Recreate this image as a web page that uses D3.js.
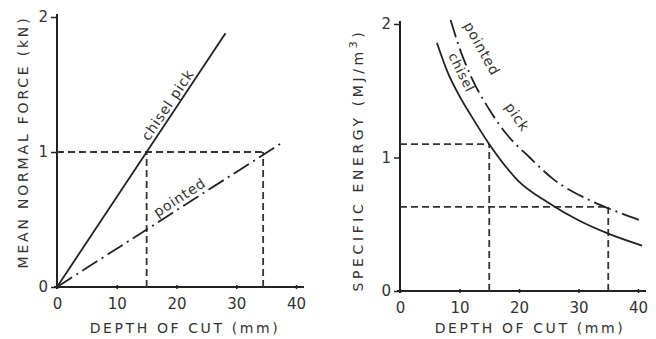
<!DOCTYPE html>
<html>
<head>
<meta charset="utf-8">
<script src="https://cdn.jsdelivr.net/npm/d3@7"></script>
<style>
  body { margin: 0; background: #fff; }
  svg text { font-family: "DejaVu Sans", sans-serif; fill: #333; }
  .tick text { font-size: 15px; }
  .axis-title { font-size: 14px; letter-spacing: 2.6px; }
  .lbl { font-size: 14px; letter-spacing: 0.8px; }
</style>
</head>
<body>
<div id="chart"></div>
<script>
// depth of cut (mm) ticks, shared by both panels
const depthTicks = [0, 10, 20, 30, 40];
const forceTicks = [0, 1, 2];
const energyTicks = [0, 1, 2];

// mean normal force (kN) vs depth of cut (mm)
const chiselForce = [[0, 0], [28.2, 1.88]];
const pointedForce = [[0, 0], [37.7, 1.07]];
const forceGuides = [[15, 1], [34.5, 1]];

// specific energy (MJ/m3) vs depth of cut (mm)
const chiselEnergy = [[6.2, 1.86], [8, 1.64], [10, 1.46], [12, 1.31], [15, 1.1],
  [20, 0.82], [25, 0.66], [30, 0.53], [35, 0.43], [40.7, 0.34]];
const pointedEnergy = [[8.5, 2.03], [10, 1.82], [12, 1.6], [15, 1.36], [18, 1.17],
  [21.8, 1.0], [25.7, 0.84], [31.4, 0.69], [35, 0.62], [40.3, 0.53]];
const energyGuides = [[15, 1.1], [35, 0.63]];

const svg = d3.select('#chart').append('svg')
    .attr('width', 656)
    .attr('height', 339);

function panel(cfg) {
  const x = d3.scaleLinear().domain([0, 40]).range(cfg.xRange);
  const y = d3.scaleLinear().domain([0, 2]).range(cfg.yRange);
  const g = svg.append('g');

  // axis lines, a bit longer than the domain like the drawing
  g.append('line')
      .attr('x1', x(0)).attr('x2', x(0))
      .attr('y1', y(0) + 2).attr('y2', y(2) - 3)
      .attr('stroke', '#222').attr('stroke-width', 2);
  g.append('line')
      .attr('x1', x(0) - 3).attr('x2', x(40) + 8)
      .attr('y1', y(0)).attr('y2', y(0))
      .attr('stroke', '#222').attr('stroke-width', 2);

  const yAxis = d3.axisLeft(y).tickValues(cfg.yTicks).tickSize(6).tickPadding(3).tickFormat(d3.format('d'));
  const xAxis = d3.axisBottom(x).tickValues(depthTicks).tickSize(4).tickPadding(6);

  g.append('g')
      .attr('transform', `translate(${x(0)},0)`)
      .call(yAxis)
      .call(a => a.select('.domain').remove())
      .call(a => a.selectAll('.tick line').attr('stroke', '#222').attr('stroke-width', 1.5));

  g.append('g')
      .attr('transform', `translate(0,${y(0) - 2})`)
      .call(xAxis)
      .call(a => a.select('.domain').remove())
      .call(a => a.selectAll('.tick line').attr('stroke', '#222').attr('stroke-width', 1.5))
      .call(a => a.selectAll('.tick text').attr('dy', '0.9em'));

  // dashed guide lines
  cfg.guides.forEach(([gx, gy]) => {
    g.append('path')
        .attr('d', `M${x(0)},${y(gy)}H${x(gx)}M${x(gx)},${y(0)}V${y(gy)}`)
        .attr('fill', 'none')
        .attr('stroke', '#333')
        .attr('stroke-width', 1.8)
        .attr('stroke-dasharray', '7,4');
  });

  const line = d3.line().x(d => x(d[0])).y(d => y(d[1])).curve(d3.curveMonotoneX);

  g.append('path')
      .datum(cfg.chisel)
      .attr('d', line)
      .attr('fill', 'none')
      .attr('stroke', '#222')
      .attr('stroke-width', 1.8);

  g.append('path')
      .datum(cfg.pointed)
      .attr('d', line)
      .attr('fill', 'none')
      .attr('stroke', '#222')
      .attr('stroke-width', 1.8)
      .attr('stroke-dasharray', '18,5,2,5');

  // axis titles
  g.append('text')
      .attr('class', 'axis-title')
      .attr('x', cfg.xTitleX)
      .attr('y', 333)
      .style('text-anchor', 'middle')
      .text('DEPTH OF CUT (mm)');

  const yt = g.append('text')
      .attr('class', 'axis-title')
      .attr('transform', `translate(${cfg.yTitlePos[0]},${cfg.yTitlePos[1]}) rotate(-90)`)
      .style('text-anchor', 'middle')
      .style('letter-spacing', cfg.yTitleSpacing);
  cfg.yTitle(yt);

  // curve labels
  cfg.labels.forEach(l => {
    g.append('text')
        .attr('class', 'lbl')
        .attr('transform', `translate(${x(l.x)},${y(l.y)}) rotate(${l.rot})`)
        .attr('dy', l.dy)
        .style('font-size', l.size || null)
        .text(l.text);
  });
}

panel({
  xRange: [57, 296],
  yRange: [287, 17],
  yTicks: forceTicks,
  guides: forceGuides,
  chisel: chiselForce,
  pointed: pointedForce,
  xTitleX: 185,
  yTitlePos: [28, 142],
  yTitleSpacing: '2.8px',
  yTitle: t => t.text('MEAN NORMAL FORCE (kN)'),
  labels: [
    {text: 'chisel  pick', x: 15.9, y: 1.06, rot: -56, dy: -4},
    {text: 'pointed', x: 17.2, y: 0.49, rot: -33, dy: -4}
  ]
});

panel({
  xRange: [400, 638],
  yRange: [291, 24],
  yTicks: energyTicks,
  guides: energyGuides,
  chisel: chiselEnergy,
  pointed: pointedEnergy,
  xTitleX: 530,
  yTitlePos: [363, 160],
  yTitleSpacing: '3.6px',
  yTitle: t => {
    t.append('tspan').text('SPECIFIC ENERGY (MJ/m');
    t.append('tspan').attr('dy', -6).style('font-size', '11px').text('3');
    t.append('tspan').attr('dy', 6).text(')');
  },
  labels: [
    {text: 'pointed', x: 10.2, y: 1.98, rot: 61, dy: -3},
    {text: 'chisel', x: 7.9, y: 1.76, rot: 63, dy: -1, size: '13px'},
    {text: 'pick', x: 17.5, y: 1.38, rot: 55, dy: 0}
  ]
});
</script>
</body>
</html>
